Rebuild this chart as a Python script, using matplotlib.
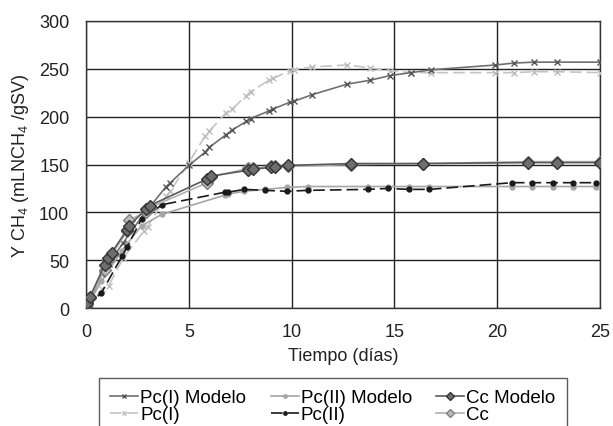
import matplotlib
matplotlib.use("Agg")
import matplotlib.pyplot as plt

plt.rcParams['font.family'] = ['Liberation Sans', 'DejaVu Sans']
plt.rcParams['mathtext.fontset'] = 'custom'
plt.rcParams['mathtext.rm'] = 'Liberation Sans'
plt.rcParams['mathtext.default'] = 'regular'

# Pc(I): modelo y datos
x_pc1 = [0, 0.8, 1.1, 1.8, 2.8, 3.0, 3.9, 4.1, 5.0, 5.8, 6.0, 6.8, 7.1, 7.8, 8.0,
         8.9, 9.1, 9.9, 10.1, 11, 12.7, 13.8, 14.8, 15.8, 16.8, 19.9, 20.8, 21.8, 22.9, 25]
y_pc1_mod = [0, 36, 46, 68, 98, 103, 127, 131, 149, 163, 168, 181, 186, 195, 198,
             206, 208, 215, 216, 223, 234, 238, 243, 246, 249, 254, 256, 257, 257, 257]
y_pc1 = [0, 20, 23, 52, 80, 85, 117, 122, 152, 180, 185, 204, 208, 222, 226,
         238, 240, 248, 249, 252, 254, 251, 248, 246, 246, 246, 246, 247, 247, 246]

# Pc(II): modelo y datos
x_pc2 = [0, 0.75, 1.75, 2.0, 2.7, 3.7, 6.75, 6.9, 7.7, 8.7, 9.75, 10.8, 13.7, 14.7,
         15.7, 16.7, 20.7, 21.7, 22.7, 23.7, 24.8]
y_pc2_mod = [0, 28, 60, 67, 86, 98, 118, 119, 122, 124, 126, 127, 127, 127,
             127, 127, 127, 127, 127, 127, 127]
y_pc2 = [0, 16, 54, 64, 93, 108, 121, 121, 124, 123, 122, 123, 124, 125,
         124, 124, 131, 131, 131, 131, 131]

# Cc: modelo y datos
x_cc = [0, 0.05, 0.2, 0.9, 1.07, 1.25, 2.0, 2.1, 2.9, 3.1, 5.9, 6.1, 7.9, 8.1,
        9.0, 9.2, 9.8, 12.9, 16.4, 21.5, 22.9, 25]
y_cc_mod = [0, 5, 12, 45, 52, 58, 82, 86, 103, 107, 135, 138, 144, 145,
            147, 147, 149, 151, 151, 152, 152, 152]
y_cc = [0, 3, 10, 40, 50, 56, 80, 92, 100, 105, 131, 137, 146, 146,
        148, 148, 148, 150, 151, 153, 153, 153]

fig = plt.figure(figsize=(6.13, 4.27), dpi=100)
ax = fig.add_axes([0.1403, 0.2763, 0.8387, 0.6722])

dash = (0, (7, 3))
ax.plot(x_pc1, y_pc1_mod, color='#707070', lw=1.2, marker='x', ms=4, mec='#555555',
        label='Pc(I) Modelo', zorder=4)
ax.plot(x_pc1, y_pc1, color='#c4c4c4', lw=1.2, ls=dash, marker='x', ms=4, mec='#bdbdbd',
        label='Pc(I)', zorder=3)
ax.plot(x_pc2, y_pc2_mod, color='#a6a6a6', lw=1.2, marker='o', ms=3.5, mec='#a6a6a6',
        label='Pc(II) Modelo', zorder=3)
ax.plot(x_pc2, y_pc2, color='#1a1a1a', lw=1.2, ls=dash, marker='o', ms=3.5, mec='#1a1a1a',
        label='Pc(II)', zorder=4)
ax.plot(x_cc, y_cc_mod, color='#5a5a5a', lw=1.2, marker='D', ms=6, mfc='#6e6e6e',
        mec='#333333', label='Cc Modelo', zorder=6)
ax.plot(x_cc, y_cc, color='#b0b0b0', lw=1.2, marker='D', ms=6, mfc='#bcbcbc',
        mec='#808080', label='Cc', zorder=5)

ax.set_xlim(0, 25)
ax.set_ylim(0, 300)
ax.set_xticks([0, 5, 10, 15, 20, 25])
ax.set_yticks([0, 50, 100, 150, 200, 250, 300])
ax.grid(True, color='#222222', lw=1.0)
ax.set_axisbelow(True)
for s in ax.spines.values():
    s.set_color('#333333')
    s.set_linewidth(1.0)
ax.tick_params(axis='x', length=0, labelsize=13, pad=11, colors='#222222')
ax.tick_params(axis='y', length=0, labelsize=13, pad=12, colors='#222222')
ax.set_xlabel('Tiempo (días)', fontsize=13, labelpad=5, color='#222222')
ax.set_ylabel('Y CH$_4$ (mLNCH$_4$ /gSV)', fontsize=13, labelpad=6, color='#222222')

leg = fig.legend(loc='upper left', bbox_to_anchor=(99 / 613, 1 - 379 / 427), ncol=3,
                 fontsize=13.5, frameon=True, fancybox=False, handlelength=1.5,
                 handletextpad=0.1, labelspacing=0.0, columnspacing=1.3,
                 borderpad=0.6, borderaxespad=0, markerscale=0.7)
leg.get_frame().set_edgecolor('#333333')
leg.get_frame().set_linewidth(1.0)

fig.savefig('out.png', dpi=100)
